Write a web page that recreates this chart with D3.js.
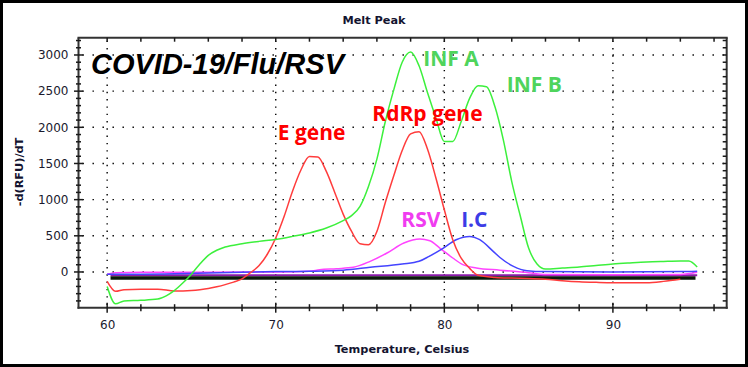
<!DOCTYPE html>
<html><head><meta charset="utf-8">
<script src="https://cdn.jsdelivr.net/npm/d3@7"></script>
<style>html,body{margin:0;padding:0;background:#fff;}svg{display:block;}</style>
</head><body>
<script>
// ---- data (temperature °C, -d(RFU)/dT) ----
const infPoints = [[60,-200],[60.5,-440],[61,-400],[62,-392],[63,-375],[63.5,-330],[64,-255],[64.5,-150],[65,-30],[65.5,110],[66,230],[66.5,300],[67,345],[68,390],[69,423],[70,450],[71,492],[72,540],[73,608],[74,710],[74.5,780],[75,906],[75.5,1180],[76,1560],[76.5,2080],[77,2518],[77.5,2900],[78,3040],[78.5,2850],[79,2480],[79.5,2130],[80,1804],[80.5,1804],[81,2080],[81.5,2400],[82,2575],[82.5,2560],[83,2287],[83.5,1827],[84,1250],[84.5,780],[85,330],[85.5,110],[86,40],[87,55],[88,70],[89,90],[90,110],[91,125],[92,138],[93,145],[94,150],[94.5,150],[95,70]];
const covidPoints = [[60,-130],[60.5,-268],[61,-245],[62,-238],[63,-238],[64,-262],[65,-255],[65.5,-245],[66,-230],[66.5,-205],[67,-175],[67.5,-140],[68,-95],[68.5,-10],[69,85],[69.5,245],[70,470],[70.5,770],[71,1120],[71.5,1413],[72,1597],[72.5,1588],[73,1390],[73.5,1100],[74,800],[74.5,560],[75,390],[75.5,377],[76,560],[76.5,960],[77,1330],[77.5,1680],[78,1910],[78.5,1940],[79,1700],[79.5,1300],[80,860],[80.5,446],[81,190],[81.5,50],[82,-45],[83,-75],[84,-85],[85,-90],[86,-100],[87,-120],[88,-135],[89,-143],[90,-148],[91,-148],[92,-148],[93,-130],[94,-100]];
const rsvPoints = [[60,-30],[60.5,-10],[62,-5],[66,-5],[70,0],[72,10],[72.6,30],[73.6,45],[74.6,64],[75.6,147],[76.6,262],[77.6,400],[78.55,456],[79.14,432],[79.73,331],[80.5,193],[81.1,101],[81.9,55],[83.3,25],[85,-10],[86,-35],[90,-40],[94,-35],[95,-5]];
const icPoints = [[60,-30],[62,-30],[64,-25],[66,-15],[68,-5],[70,5],[72,10],[74,25],[75.6,64],[77.5,110],[78.5,147],[79.1,216],[79.9,322],[80.7,446],[81.5,492],[82.1,446],[82.9,285],[83.3,200],[84.1,78],[84.9,18],[86,5],[90,0],[94,5],[95,10]];
const ntcPurplePoints = [[60.2,-45],[95,-45]];
const ntcBlackPoints = [[60.2,-85],[94.9,-85]];

const xMajorTicks = [60,70,80,90];
const xMinorTicks = [62,64,66,68,72,74,76,78,82,84,86,88,92,94,96];
const yMajorTicks = [0,500,1000,1500,2000,2500,3000];
const yAllTicks = d3.range(-400,3201,100);

const labels = [
  {text:"E gene", t:70.12, v:1825, color:"#ff0000"},
  {text:"RdRp gene", t:75.73, v:2087, color:"#ff0000"},
  {text:"INF A", t:78.75, v:2848, color:"#4fd45c"},
  {text:"INF B", t:83.7, v:2492, color:"#4fd45c"},
  {text:"RSV", t:77.45, v:626, color:"#f03cf0"},
  {text:"I.C", t:81.0, v:626, color:"#3c3ce6"}
];

// ---- drawing ----
const W=748,H=367;
const L=78.5,R=726.7,T=37.7,B=307.7;
const svg=d3.select("body").append("svg").attr("width",W).attr("height",H);
svg.append("rect").attr("x",1.5).attr("y",1.5).attr("width",W-3).attr("height",H-3)
  .attr("fill","#fff").attr("stroke","#000").attr("stroke-width",3);

const x=d3.scaleLinear().domain([58.3,96.75]).range([L,R]);
const y=d3.scaleLinear().domain([-494,3239]).range([B,T]);

// grid
const grid=svg.append("g");
xMajorTicks.forEach(t=>grid.append("line").attr("x1",x(t)).attr("x2",x(t)).attr("y1",T+3).attr("y2",B)
  .attr("stroke","#000").attr("stroke-width",1.4).attr("stroke-dasharray","1.4,5.9"));
yMajorTicks.forEach(v=>grid.append("line").attr("x1",L+4).attr("x2",R).attr("y1",y(v)).attr("y2",y(v))
  .attr("stroke","#000").attr("stroke-width",1.4).attr("stroke-dasharray","1.4,8.6"));

// curves
const line=d3.line().x(d=>x(d[0])).y(d=>y(d[1])).curve(d3.curveMonotoneX);
const plot=svg.append("g");
plot.append("path").datum(ntcPurplePoints).attr("d",line).attr("fill","none").attr("stroke","#8a1aa8").attr("stroke-width",2.2);
plot.append("path").datum(ntcBlackPoints).attr("d",line).attr("fill","none").attr("stroke","#0a1a0a").attr("stroke-width",3.5);
plot.append("path").datum(rsvPoints).attr("d",line).attr("fill","none").attr("stroke","#ff44ff").attr("stroke-width",1.5);
plot.append("path").datum(icPoints).attr("d",line).attr("fill","none").attr("stroke","#4444ff").attr("stroke-width",1.5);
plot.append("path").datum(covidPoints).attr("d",line).attr("fill","none").attr("stroke","#ff3c3c").attr("stroke-width",1.5);
plot.append("path").datum(infPoints).attr("d",line).attr("fill","none").attr("stroke","#3cf03c").attr("stroke-width",1.5);

// axes frame
const axC="#333";
const fr=svg.append("g").attr("stroke",axC).attr("stroke-width",2);
fr.append("line").attr("x1",L).attr("x2",L).attr("y1",T).attr("y2",B+1);
fr.append("line").attr("x1",L-1).attr("x2",R+1).attr("y1",B).attr("y2",B);
fr.append("line").attr("x1",L-1).attr("x2",R+1).attr("y1",T).attr("y2",T);
fr.append("line").attr("x1",R).attr("x2",R).attr("y1",T).attr("y2",B+1);

// bottom axis (labels via d3 axis), crossing ticks
const xAxis=d3.axisBottom(x).tickValues(xMajorTicks).tickSize(0).tickPadding(13).tickFormat(d3.format("d"));
const gx=svg.append("g").attr("transform",`translate(0,${B})`).call(xAxis);
gx.select(".domain").remove();
gx.selectAll("text").attr("font-family","DejaVu Sans").attr("font-size",12).attr("fill","#1a1a2e");
const tk=svg.append("g").attr("stroke","#1a1a1a").attr("stroke-width",1.5);
xMajorTicks.forEach(t=>tk.append("line").attr("x1",x(t)).attr("x2",x(t)).attr("y1",B-5).attr("y2",B+5));
xMinorTicks.forEach(t=>tk.append("line").attr("x1",x(t)).attr("x2",x(t)).attr("y1",B-3.5).attr("y2",B+3.5));
xMajorTicks.concat(xMinorTicks).forEach(t=>tk.append("line").attr("x1",x(t)).attr("x2",x(t)).attr("y1",T).attr("y2",T+4));

// left axis
const yAxis=d3.axisLeft(y).tickValues(yMajorTicks).tickSize(0).tickPadding(10).tickFormat(d3.format("d"));
const gy=svg.append("g").attr("transform",`translate(${L},0)`).call(yAxis);
gy.select(".domain").remove();
gy.selectAll("text").attr("font-family","DejaVu Sans").attr("font-size",12).attr("fill","#1a1a2e");
yAllTicks.forEach(v=>{
  const major=v%500===0;
  tk.append("line").attr("x1",L-(major?4.5:2.5)).attr("x2",L+(major?4.5:2.5)).attr("y1",y(v)).attr("y2",y(v));
  tk.append("line").attr("x1",R-4).attr("x2",R).attr("y1",y(v)).attr("y2",y(v));
});

// titles
svg.append("text").attr("x",374).attr("y",24).attr("text-anchor","middle")
  .attr("font-family","DejaVu Sans").attr("font-weight","bold").attr("font-size",11.3).attr("fill","#141430").text("Melt Peak");
svg.append("text").attr("x",402).attr("y",353.3).attr("text-anchor","middle")
  .attr("font-family","DejaVu Sans").attr("font-weight","bold").attr("font-size",11.3).attr("fill","#141430").text("Temperature, Celsius");
svg.append("text").attr("transform","translate(23,172) rotate(-90)").attr("text-anchor","middle")
  .attr("font-family","DejaVu Sans").attr("font-weight","bold").attr("font-size",11.3).attr("fill","#141430").text("-d(RFU)/dT");
svg.append("text").attr("x",91).attr("y",73.5)
  .attr("font-family","Liberation Sans").attr("font-weight","bold").attr("font-style","italic").attr("font-size",29).attr("fill","#000").text("COVID-19/Flu/RSV");

// series labels
labels.forEach(l=>svg.append("text").attr("x",x(l.t)).attr("y",y(l.v))
  .attr("font-family","Open Sans").attr("font-weight","bold").attr("font-size",21).attr("fill",l.color).text(l.text));
</script>
</body></html>
